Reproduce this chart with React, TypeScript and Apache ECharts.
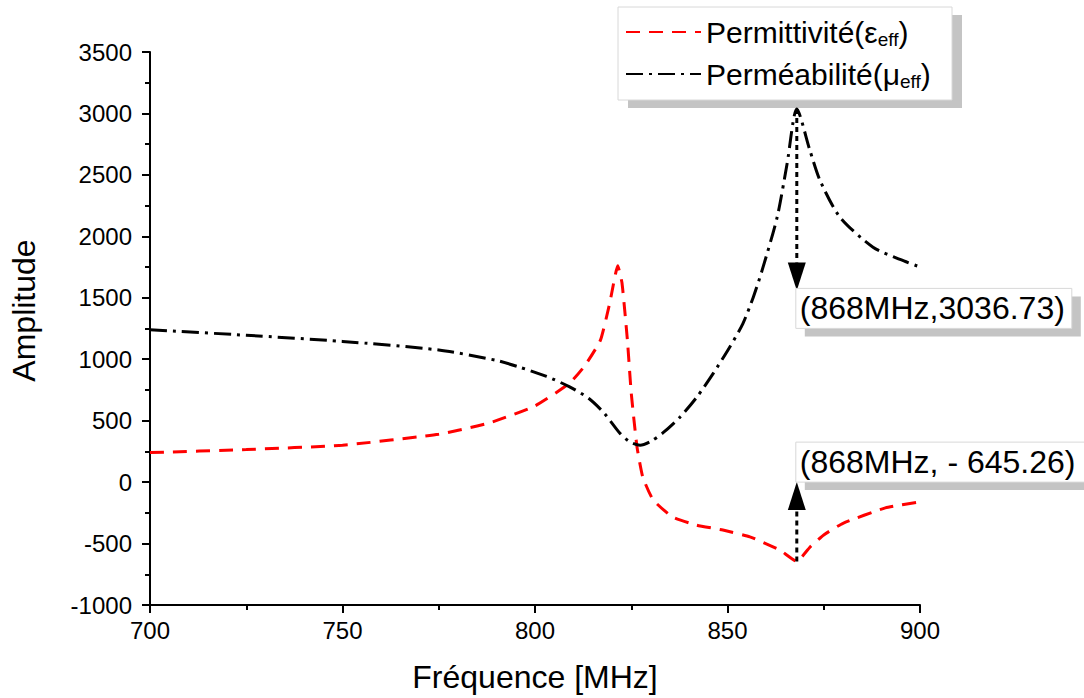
import React, { useEffect, useRef } from "react";
import * as echarts from "echarts";

const permFreq = [700, 725, 750, 775, 788, 800, 809, 813, 817, 819.4, 821.5, 822.6, 824, 825, 826.5, 828, 830.7, 835.8, 842, 848.8, 855.8, 863.6, 868, 871.4, 875, 880, 891, 900];
const permValues = [240, 265, 300, 390, 480, 620, 805, 950, 1155, 1455, 1760, 1620, 1155, 724, 285, 40, -146, -285, -350, -390, -445, -553, -645.26, -530, -430, -335, -210, -160];

const muFreq = [700, 725, 750, 775, 790, 796, 803, 809, 814, 818, 822, 824.5, 827.3, 830, 833.2, 837.7, 842, 846.3, 850.6, 854, 856.7, 859, 862.9, 865.5, 868, 871.4, 874, 879.2, 887.8, 895, 900];
const muValues = [1240, 1195, 1145, 1075, 990, 935, 860, 775, 680, 560, 400, 330, 300, 330, 400, 530, 690, 885, 1100, 1290, 1505, 1725, 2156, 2595, 3036.73, 2700, 2457, 2156, 1912, 1810, 1750];

const seriesNames = ["Permittivité(εeff)", "Perméabilité(μeff)"];
const legendRich: Record<string, string> = {
  "Permittivité(εeff)": "{m|Permittivité(ε}{s|eff}{m|)}",
  "Perméabilité(μeff)": "{m|Perméabilité(μ}{s|eff}{m|)}",
};

const annFreq = 868;
const annPeak = 3036.73;
const annMin = -645.26;
const annTopTip = 1560;
const annBottomTip = 0;
const annTopText = "(868MHz,3036.73)";
const annBottomText = "(868MHz, - 645.26)";

const FONT = "'Liberation Sans', Arial, sans-serif";

export default function App() {
  const ref = useRef<HTMLDivElement>(null);
  useEffect(() => {
    document.body.style.margin = "0";
    const chart = echarts.init(ref.current!, null, { renderer: "svg" });
    const axisCommon = {
      type: "value",
      nameLocation: "middle",
      nameTextStyle: { fontSize: 32, fontFamily: FONT, color: "#000" },
      axisLine: { show: true, onZero: false, lineStyle: { color: "#000", width: 2 } },
      axisTick: { show: true, length: 8, lineStyle: { color: "#000", width: 2 } },
      minorTick: { show: true, splitNumber: 2, length: 5, lineStyle: { color: "#000", width: 2 } },
      splitLine: { show: false },
      axisLabel: { fontSize: 24, fontFamily: FONT, color: "#000", formatter: (v: number) => String(v) },
    };
    chart.setOption({
      animation: false,
      backgroundColor: "#fff",
      grid: { left: 150, right: 164, top: 52, bottom: 93, outerBoundsMode: "none" },
      xAxis: {
        ...axisCommon,
        min: 700,
        max: 900,
        interval: 50,
        name: "Fréquence [MHz]",
        nameGap: 56,
        axisLabel: { ...axisCommon.axisLabel, margin: 13 },
      },
      yAxis: {
        ...axisCommon,
        min: -1000,
        max: 3500,
        interval: 500,
        name: "Amplitude",
        nameGap: 110,
        nameTextStyle: { ...axisCommon.nameTextStyle, padding: [0, 0, 0, 36] },
        axisLabel: { ...axisCommon.axisLabel, margin: 18 },
      },
      legend: {
        orient: "vertical",
        left: 620,
        top: 12,
        itemWidth: 75,
        itemHeight: 14,
        itemGap: 10,
        z: 20,
        data: seriesNames,
        itemStyle: { opacity: 0, borderWidth: 0 },
        formatter: (name: string) => legendRich[name] || name,
        textStyle: {
          fontSize: 30,
          fontFamily: FONT,
          color: "#000",
          rich: {
            m: { fontSize: 30, fontFamily: FONT, color: "#000", lineHeight: 34 },
            s: { fontSize: 19, fontFamily: FONT, color: "#000", verticalAlign: "bottom", lineHeight: 16 },
          },
        },
      },
      series: [
        {
          name: seriesNames[0],
          type: "line",
          data: permFreq.map((f, i) => [f, permValues[i]]),
          symbol: "none",
          showSymbol: false,
          smooth: 0.15,
          lineStyle: { color: "#ff0000", width: 3, type: [14, 9] },
          itemStyle: { color: "#ff0000" },
        },
        {
          name: seriesNames[1],
          type: "line",
          data: muFreq.map((f, i) => [f, muValues[i]]),
          symbol: "none",
          showSymbol: false,
          smooth: 0.25,
          lineStyle: { color: "#000", width: 3, type: [17, 6, 3, 6] },
          itemStyle: { color: "#000" },
        },
      ],
    });

    const px = (v: number[]) => chart.convertToPixel({ gridIndex: 0 }, v) as number[];
    const p1 = px([annFreq, annPeak]);
    const t1 = px([annFreq, annTopTip]);
    const p2 = px([annFreq, annMin]);
    const t2 = px([annFreq, annBottomTip]);
    const ah = 28;
    const aw = 9;
    const dash = { stroke: "#000", lineWidth: 3, lineDash: [5, 4] };
    const boxH = 40;
    const g: any[] = [
      // legend frame
      { type: "rect", shape: { x: 628, y: 15, width: 334, height: 93 }, style: { fill: "#c4c4c4" }, z: 1 },
      { type: "rect", shape: { x: 618, y: 7, width: 334, height: 93 }, style: { fill: "#fff", stroke: "#d8d8d8", lineWidth: 1 }, z: 2 },
      // top arrow
      { type: "line", shape: { x1: p1[0], y1: p1[1], x2: t1[0], y2: t1[1] - ah }, style: dash, z: 50 },
      { type: "polygon", shape: { points: [[t1[0] - aw, t1[1] - ah], [t1[0] + aw, t1[1] - ah], [t1[0], t1[1]]] }, style: { fill: "#000" }, z: 50 },
      { type: "rect", shape: { x: t1[0] + 8, y: t1[1] + 6, width: 276, height: boxH }, style: { fill: "#c4c4c4" }, z: 60 },
      { type: "rect", shape: { x: t1[0] - 1, y: t1[1] - 2, width: 276, height: boxH }, style: { fill: "#fff", stroke: "#d8d8d8", lineWidth: 1 }, z: 61 },
      { type: "text", x: t1[0] + 3, y: t1[1] - 2 + boxH / 2, style: { text: annTopText, fontSize: 32, fontFamily: FONT, fill: "#000", verticalAlign: "middle", align: "left" }, z: 62 },
      // bottom arrow
      { type: "line", shape: { x1: p2[0], y1: p2[1], x2: t2[0], y2: t2[1] + ah }, style: dash, z: 50 },
      { type: "polygon", shape: { points: [[t2[0] - aw, t2[1] + ah], [t2[0] + aw, t2[1] + ah], [t2[0], t2[1]]] }, style: { fill: "#000" }, z: 50 },
      { type: "rect", shape: { x: t2[0] + 8, y: t2[1] - boxH + 8, width: 330, height: boxH }, style: { fill: "#c4c4c4" }, z: 60 },
      { type: "rect", shape: { x: t2[0] - 1, y: t2[1] - boxH, width: 330, height: boxH }, style: { fill: "#fff", stroke: "#d8d8d8", lineWidth: 1 }, z: 61 },
      { type: "text", x: t2[0] + 3, y: t2[1] - boxH / 2, style: { text: annBottomText, fontSize: 32, fontFamily: FONT, fill: "#000", verticalAlign: "middle", align: "left" }, z: 62 },
    ];
    chart.setOption({ graphic: g });
    return () => chart.dispose();
  }, []);
  return <div ref={ref} style={{ width: 1084, height: 698 }} />;
}
